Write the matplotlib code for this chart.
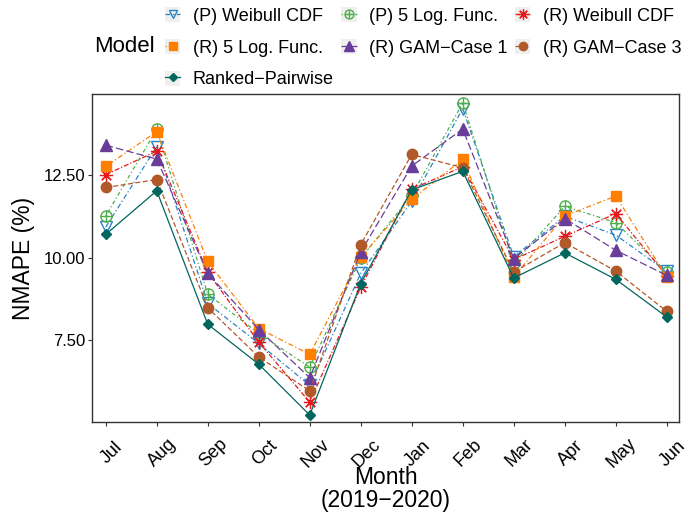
import matplotlib
matplotlib.use("Agg")
import matplotlib.pyplot as plt
from matplotlib.patches import Rectangle
from matplotlib.legend_handler import HandlerTuple
from matplotlib.transforms import ScaledTranslation

plt.rcParams['font.family'] = ['Liberation Sans', 'DejaVu Sans']

months = ['Jul', 'Aug', 'Sep', 'Oct', 'Nov', 'Dec', 'Jan', 'Feb', 'Mar', 'Apr', 'May', 'Jun']

# NMAPE (%) per model
weibull_p = [10.92, 13.36, 8.61, 7.40, 6.13, 9.52, 11.70, 14.51, 10.02, 11.25, 10.68, 9.58]
logfunc_p = [11.26, 13.88, 8.89, 7.70, 6.68, 9.98, 11.88, 14.68, 9.82, 11.55, 11.06, 9.56]
weibull_r = [12.51, 13.22, 9.55, 7.44, 5.62, 9.10, 12.07, 12.75, 9.94, 10.64, 11.33, 9.45]
logfunc_r = [12.76, 13.81, 9.88, 7.85, 7.07, 10.01, 11.76, 12.97, 9.41, 11.26, 11.86, 9.42]
gam_case1 = [13.40, 12.98, 9.52, 7.82, 6.36, 10.17, 12.77, 13.89, 9.97, 11.18, 10.22, 9.46]
gam_case3 = [12.12, 12.36, 8.48, 6.99, 5.96, 10.39, 13.12, 12.72, 9.56, 10.45, 9.59, 8.37]
ranked_pw = [10.70, 12.02, 7.98, 6.77, 5.23, 9.21, 12.05, 12.61, 9.38, 10.14, 9.34, 8.20]

labels = ['(P) Weibull CDF', '(P) 5 Log. Func.', '(R) Weibull CDF',
          '(R) 5 Log. Func.', '(R) GAM\u2212Case 1', '(R) GAM\u2212Case 3',
          'Ranked\u2212Pairwise']

x = list(range(len(months)))

fig = plt.figure(figsize=(6.9, 5.18), dpi=100)
ax = fig.add_axes([0.1333, 0.1853, 0.8507, 0.6332])

lw = 0.9
h_wp, = ax.plot(x, weibull_p, color='#2B83C6', ls=(0, (4, 2, 1, 2)), lw=lw,
                marker='v', ms=8, mfc='none', mec='#2B83C6', mew=1.0)
h_lp, = ax.plot(x, logfunc_p, color='#4DAF4A', ls=(0, (1, 2, 3, 2)), lw=lw,
                marker='o', ms=8, mfc='none', mec='#4DAF4A', mew=1.0)
h_lp2, = ax.plot(x, logfunc_p, ls='none', marker='+', ms=8, mec='#4DAF4A', mew=1.0)
h_wr, = ax.plot(x, weibull_r, color='#E41A1C', ls=(0, (4, 1.5, 1, 1.5)), lw=lw,
                marker=(8, 2, 0), ms=9.5, mec='#E41A1C', mew=0.9)
h_lr, = ax.plot(x, logfunc_r, color='#FF7F00', ls=(0, (1, 2, 4, 2)), lw=lw,
                marker='s', ms=7.5, mfc='#FF7F00', mec='#FF7F00')
h_g1, = ax.plot(x, gam_case1, color='#6A3D9A', ls=(0, (6, 2.5)), lw=lw,
                marker='^', ms=8.5, mfc='#6A3D9A', mec='#6A3D9A')
h_g3, = ax.plot(x, gam_case3, color='#B15928', ls=(0, (4, 2)), lw=lw,
                marker='o', ms=7.5, mfc='#B15928', mec='#B15928')
h_rp, = ax.plot(x, ranked_pw, color='#01665E', ls='-', lw=lw,
                marker='D', ms=5, mfc='#01665E', mec='#01665E')

ax.set_xlim(-0.27, 11.24)
ax.set_ylim(5.02, 14.95)
ax.set_yticks([7.5, 10.0, 12.5])
ax.set_yticklabels(['7.50', '10.00', '12.50'])
ax.set_xticks(x)
ax.set_xticklabels(months, rotation=45, ha='center', va='center',
                   rotation_mode='anchor')
ax.tick_params(axis='both', labelsize=12, colors='#333333', labelcolor='black',
               length=2.9, width=0.8)
ax.tick_params(axis='y', pad=2)
ax.tick_params(axis='x', pad=19.5, labelsize=13)
for lab in ax.get_xticklabels():
    lab.set_transform(lab.get_transform() + ScaledTranslation(4.3 / 72, 0, fig.dpi_scale_trans))

for sp in ax.spines.values():
    sp.set_color('#333333')
    sp.set_linewidth(1.0)

ax.set_xlabel('Month\n(2019\u22122020)', fontsize=16.5, linespacing=1.0)
ax.xaxis.set_label_coords(0.5, -0.135)
ax.set_ylabel('NMAPE (%)', fontsize=16.5)
ax.yaxis.set_label_coords(-0.097, 0.5)

# legend: grey key boxes behind the marker/line samples
def key(*hs):
    bg = Rectangle((0, 0), 1, 1, facecolor='#EFEFEF', edgecolor='none')
    return (bg,) + hs

handles = [key(h_wp), key(h_lr), key(h_rp), key(h_lp, h_lp2), key(h_g1), key(h_wr), key(h_g3)]
order = [0, 3, 6, 1, 4, 2, 5]
leg = fig.legend(handles, [labels[i] for i in order], ncol=3,
                 handler_map={tuple: HandlerTuple(ndivide=1, pad=0)},
                 loc='upper left', bbox_to_anchor=(165 / 690, 1 - 7 / 518),
                 frameon=False, fontsize=13, handlelength=0.85, handleheight=0.9,
                 handletextpad=0.7, columnspacing=0.4, labelspacing=0.78,
                 borderpad=0, borderaxespad=0, markerscale=0.8)
fig.text(94 / 690, 1 - 46 / 518, 'Model', fontsize=16, ha='left', va='center')

fig.savefig('out.png', dpi=100)
